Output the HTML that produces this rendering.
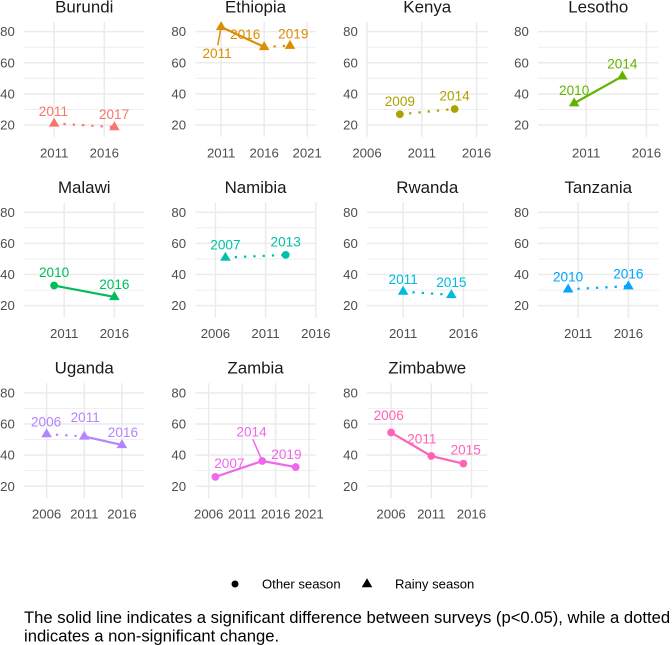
<!DOCTYPE html>
<html lang="en">
<head>
<meta charset="utf-8">
<title>Survey trends by country</title>
<style>
html,body{margin:0;padding:0;background:#fff;width:672px;height:645px;overflow:hidden}
svg{display:block;position:absolute;left:0;top:0}
text{font-family:"Liberation Sans",sans-serif}
</style>
</head>
<body>
<svg id="chart" xmlns="http://www.w3.org/2000/svg" width="672" height="645" viewBox="0 0 672 645"></svg>
<script>
const countries = ['Burundi','Ethiopia','Kenya','Lesotho','Malawi','Namibia','Rwanda','Tanzania','Uganda','Zambia','Zimbabwe'];
const colors = ['#F8766D','#DB8E00','#AEA200','#64B200','#00BD5C','#00C1A7','#00BADE','#00A6FF','#B385FF','#EF67EB','#FF63B6'];
const surveyYears = [[2011,2017],[2011,2016,2019],[2009,2014],[2010,2014],[2010,2016],[2007,2013],[2011,2015],[2010,2016],[2006,2011,2016],[2007,2014,2019],[2006,2011,2015]];
const surveyValues = [[21,18.7],[83,70.2,71],[26.9,30.3],[34,51.3],[32.9,25.6],[50.9,52.6],[29,26.9],[30.5,32.5],[53.5,52,46.5],[26,36.2,32.3],[54.5,39.4,34.5]];
const seasons = [['rainy','rainy'],['rainy','rainy','rainy'],['other','other'],['rainy','rainy'],['other','rainy'],['rainy','other'],['rainy','rainy'],['rainy','rainy'],['rainy','rainy','rainy'],['other','other','other'],['other','other','other']];
const significant = [[false],[true,false],[false],[true],[true],[false],[false],[false],[false,true],[true,true],[true,true]];
const xTicks = [[2011,2016],[2011,2016,2021],[2006,2011,2016],[2011,2016],[2011,2016],[2006,2011,2016],[2011,2016],[2011,2016],[2006,2011,2016],[2006,2011,2016,2021],[2006,2011,2016]];
const xDomains = [[2008,2020],[2008,2022],[2006,2017],[2007,2017],[2007,2019],[2004,2016],[2008,2018],[2007,2019],[2003,2019],[2004,2022],[2003,2018]];
const yDomain = [12.3,86.2];
const yMajorTicks = [20,40,60,80];
const yMinorTicks = [30,50,70];

/* Layout only: label placement relative to each mark, as ggrepel produced it */
const labelNudges = [
  [[-0.7,-7.4],[-0.3,-8]],
  [[-4,31],[-19,-8],[3.3,-7]],
  [[0,-8.3],[0,-8.3]],
  [[0,-8],[0,-8]],
  [[0,-8.4],[0,-7.7]],
  [[0,-8],[0,-8.3]],
  [[0,-7.4],[0,-7.7]],
  [[0,-8],[0,-7.6]],
  [[-0.5,-7.7],[1,-14.3],[1,-8]],
  [[14,-8.7],[-10.7,-24.3],[-9.3,-8.3]],
  [[-2.4,-12.7],[-9.4,-12.7],[2.3,-9]]
];
const repelLeaders = {'1-0':[-3.4,18.3],'9-1':[-9.4,-21.7]};
const colLefts = [24,195.3,367,538];
const rowTops = [22,202.6,383.2];
const panelW = 120.5;
const panelH = 115;

const svg = document.getElementById('chart');
const NS = 'http://www.w3.org/2000/svg';
function el(tag, attrs, parent){
  const n = document.createElementNS(NS, tag);
  for(const k in attrs){ n.setAttribute(k, attrs[k]); }
  parent.appendChild(n);
  return n;
}
function slug(s){ return s.toLowerCase().replace(/\s+/g,'-'); }
function trianglePoints(x,y){
  return (x)+','+(y-5.8)+' '+(x+5.3)+','+(y+3.2)+' '+(x-5.3)+','+(y+3.2);
}

countries.forEach(function(country, i){
  const col = i % 4;
  const row = Math.floor(i / 4);
  const left = colLefts[col];
  const top = rowTops[row];
  const dom = xDomains[i];
  const sx = function(v){ return left + (v - dom[0]) / (dom[1] - dom[0]) * panelW; };
  const sy = function(v){ return top + panelH - (v - yDomain[0]) / (yDomain[1] - yDomain[0]) * panelH; };
  const color = colors[i];
  const key = slug(country);

  const g = el('g', {}, svg);
  
  

  yMinorTicks.forEach(function(t){
    const l = el('line', {x1:left, x2:left+panelW, y1:sy(t), y2:sy(t), stroke:'#EBEBEB', 'stroke-width':0.8}, g);
    
    
  });
  yMajorTicks.forEach(function(t){
    const l = el('line', {x1:left, x2:left+panelW, y1:sy(t), y2:sy(t), stroke:'#EBEBEB', 'stroke-width':1.5}, g);
    
    
    const tx = el('text', {x:left-9.2, y:sy(t)+4.6, 'text-anchor':'end', 'font-size':13.2, fill:'#4D4D4D'}, g);
    tx.textContent = t;
    
    
  });
  xTicks[i].forEach(function(t){
    const l = el('line', {x1:sx(t), x2:sx(t), y1:top, y2:top+panelH, stroke:'#EBEBEB', 'stroke-width':1.5}, g);
    
    
    const tx = el('text', {x:sx(t), y:top+panelH+20.3, 'text-anchor':'middle', 'font-size':13.2, fill:'#4D4D4D'}, g);
    tx.textContent = t;
    
    
  });

  const title = el('text', {x:left+panelW/2, y:top-9.7, 'text-anchor':'middle', 'font-size':16.9, fill:'#1A1A1A'}, g);
  title.textContent = country;
  
  

  const yrs = surveyYears[i];
  const vals = surveyValues[i];

  significant[i].forEach(function(sig, s){
    const attrs = {x1:sx(yrs[s]), y1:sy(vals[s]), x2:sx(yrs[s+1]), y2:sy(vals[s+1]), stroke:color, 'stroke-width':2.2};
    if(!sig){ attrs['stroke-dasharray'] = '2.3 7'; }
    const l = el('line', attrs, g);
    
    
  });

  yrs.forEach(function(y, p){
    const px = sx(y);
    const py = sy(vals[p]);
    let mark;
    if(seasons[i][p] === 'other'){
      mark = el('circle', {cx:px, cy:py, r:3.9, fill:color}, g);
      
    } else {
      mark = el('polygon', {points:trianglePoints(px,py), fill:color}, g);
      
    }
    

    const leader = repelLeaders[i + '-' + p];
    if(leader){
      const s = el('line', {x1:px, y1:py, x2:px+leader[0], y2:py+leader[1], stroke:color, 'stroke-width':1.5}, g);
      
      
    }

    const nudge = labelNudges[i][p];
    const lab = el('text', {x:px+nudge[0], y:py+nudge[1], 'text-anchor':'middle', 'font-size':13.6, fill:color}, g);
    lab.textContent = y;
    
    
  });
});

const legend = el('g', {}, svg);



const legendDot = el('circle', {cx:235, cy:584, r:3.5, fill:'#000'}, legend);



const legendOther = el('text', {x:262, y:588.5, 'font-size':13.1, fill:'#000'}, legend);
legendOther.textContent = 'Other season';



const legendTri = el('polygon', {points:trianglePoints(367,584), fill:'#000'}, legend);



const legendRainy = el('text', {x:395, y:588.5, 'font-size':13.1, fill:'#000'}, legend);
legendRainy.textContent = 'Rainy season';



const note1 = el('text', {x:24, y:623, 'font-size':16.64, fill:'#000'}, svg);
note1.textContent = 'The solid line indicates a significant difference between surveys (p<0.05), while a dotted';



const note2 = el('text', {x:24, y:641.5, 'font-size':16.64, fill:'#000'}, svg);
note2.textContent = 'indicates a non-significant change.';


</script>
</body>
</html>
